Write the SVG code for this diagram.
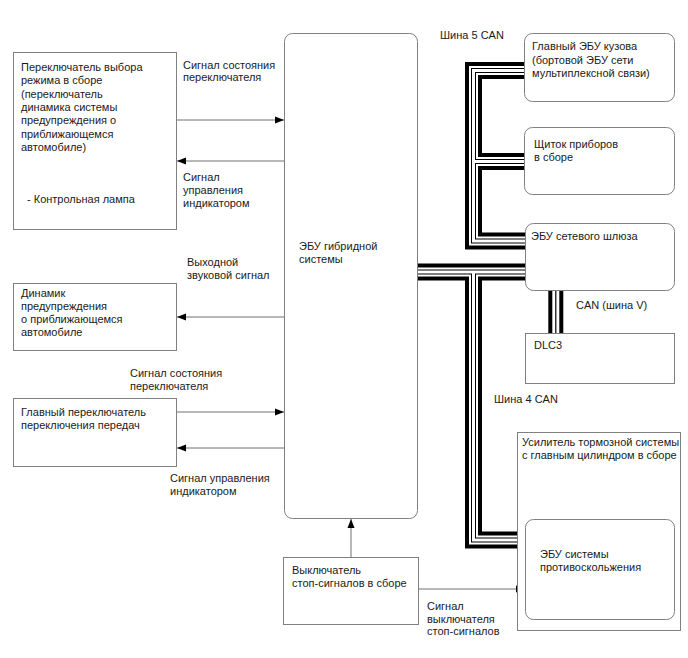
<svg xmlns="http://www.w3.org/2000/svg" width="688" height="658" viewBox="0 0 688 658">
<style>
.box{fill:#fff;stroke:#808080;stroke-width:1}
text{font-family:"Liberation Sans",Arial,sans-serif;font-size:11px;fill:#1a1a1a}
.ln{fill:none;stroke:#707070;stroke-width:1}
.b1{fill:none;stroke:#000;stroke-width:17;stroke-linejoin:miter}
.b2{fill:none;stroke:#fff;stroke-width:9;stroke-linejoin:miter}
.b3{fill:none;stroke:#000;stroke-width:5;stroke-linejoin:miter}
.b4{fill:none;stroke:#fff;stroke-width:3;stroke-linejoin:miter}
</style>
<defs>
<marker id="ah" markerWidth="9" markerHeight="8" refX="9" refY="4" orient="auto" markerUnits="userSpaceOnUse">
<path d="M0,0.5 L9,4 L0,7.5 Z" fill="#000"/>
</marker>
</defs>
<rect width="688" height="658" fill="#fff"/>

<g id="connectors">
<line class="ln" x1="177" y1="120" x2="284" y2="120" marker-end="url(#ah)"/>
<line class="ln" x1="284" y1="161" x2="177" y2="161" marker-end="url(#ah)"/>
<line class="ln" x1="284" y1="317" x2="177" y2="317" marker-end="url(#ah)"/>
<line class="ln" x1="177" y1="412" x2="284" y2="412" marker-end="url(#ah)"/>
<line class="ln" x1="284" y1="448" x2="177" y2="448" marker-end="url(#ah)"/>
<line class="ln" x1="351" y1="557" x2="351" y2="519" marker-end="url(#ah)"/>
<line class="ln" x1="419" y1="589" x2="525" y2="589" marker-end="url(#ah)"/>
<g id="buses">
<path class="b1" d="M524,70.5 H473.5 V241 H525"/>
<path class="b1" d="M473.5,161.5 H524"/>
<path class="b1" d="M418,272 H525"/>
<path class="b1" d="M473.5,272 V540 H525"/>
<path class="b2" d="M524,70.5 H473.5 V241 H525"/>
<path class="b2" d="M473.5,161.5 H524"/>
<path class="b2" d="M418,272 H525"/>
<path class="b2" d="M473.5,272 V540 H525"/>
<path class="b3" d="M524,70.5 H473.5 V241 H525"/>
<path class="b3" d="M473.5,161.5 H524"/>
<path class="b3" d="M418,272 H525"/>
<path class="b3" d="M473.5,272 V540 H525"/>
<path class="b4" d="M524,70.5 H473.5 V241 H525"/>
<path class="b4" d="M473.5,161.5 H524"/>
<path class="b4" d="M418,272 H525"/>
<path class="b4" d="M473.5,272 V540 H525"/>
<line x1="555.8" y1="290" x2="555.8" y2="333" stroke="#000" stroke-width="15"/>
<line x1="555.8" y1="290" x2="555.8" y2="333" stroke="#fff" stroke-width="7"/>
<line x1="555.8" y1="290" x2="555.8" y2="333" stroke="#000" stroke-width="1.2"/>
</g>
</g>

<g id="labels">
<text x="183" y="68.5">Сигнал состояния</text>
<text x="183" y="81">переключателя</text>
<text x="183" y="181">Сигнал</text>
<text x="183" y="194">управления</text>
<text x="183" y="207">индикатором</text>
<text x="187" y="266">Выходной</text>
<text x="187" y="278.5">звуковой сигнал</text>
<text x="130" y="377">Сигнал состояния</text>
<text x="130" y="390">переключателя</text>
<text x="170" y="482">Сигнал управления</text>
<text x="170" y="495">индикатором</text>
<text x="440" y="39">Шина 5 CAN</text>
<text x="576" y="309">CAN (шина V)</text>
<text x="494" y="403">Шина 4 CAN</text>
<text x="427" y="610">Сигнал</text>
<text x="427" y="622.5">выключателя</text>
<text x="427" y="635">стоп-сигналов</text>
</g>

<g id="mode-switch">
<rect class="box" x="13.5" y="52.5" width="163" height="177"/>
<text x="21" y="71">Переключатель выбора</text>
<text x="21" y="84.3">режима в сборе</text>
<text x="21" y="97.6">(переключатель</text>
<text x="21" y="111">динамика системы</text>
<text x="21" y="124.3">предупреждения о</text>
<text x="21" y="137.6">приближающемся</text>
<text x="21" y="151">автомобиле)</text>
<text x="27" y="202.5">- Контрольная лампа</text>
</g>

<g id="speaker">
<rect class="box" x="13.5" y="283.5" width="163" height="67"/>
<text x="21" y="297">Динамик</text>
<text x="21" y="310">предупреждения</text>
<text x="21" y="323">о приближающемся</text>
<text x="21" y="336">автомобиле</text>
</g>

<g id="shift-switch">
<rect class="box" x="13.5" y="398.5" width="163" height="68"/>
<text x="21" y="415.5">Главный переключатель</text>
<text x="21" y="428.5">переключения передач</text>
</g>

<g id="hybrid-ecu">
<rect class="box" x="284.5" y="33.5" width="133" height="485" rx="8"/>
<text x="299" y="249.5">ЭБУ гибридной</text>
<text x="299" y="263">системы</text>
</g>

<g id="stop-switch">
<rect class="box" x="283.5" y="557.5" width="135" height="67"/>
<text x="292" y="574">Выключатель</text>
<text x="292" y="586.5">стоп-сигналов в сборе</text>
</g>

<g id="body-ecu">
<rect class="box" x="524.5" y="33.5" width="150" height="68" rx="8"/>
<text x="532" y="50">Главный ЭБУ кузова</text>
<text x="532" y="63.5">(бортовой ЭБУ сети</text>
<text x="532" y="77">мультиплексной связи)</text>
</g>

<g id="meter">
<rect class="box" x="524.5" y="127.5" width="150" height="67" rx="8"/>
<text x="534" y="147.5">Щиток приборов</text>
<text x="534" y="160.5">в сборе</text>
</g>

<g id="gateway">
<rect class="box" x="525.5" y="223.5" width="149" height="67" rx="8"/>
<text x="531" y="240">ЭБУ сетевого шлюза</text>
</g>

<g id="dlc3">
<rect class="box" x="525.5" y="333.5" width="149" height="50"/>
<text x="534" y="349">DLC3</text>
</g>

<g id="brake-booster">
<rect class="box" x="517.5" y="432.5" width="163" height="198"/>
<text x="522" y="445.5">Усилитель тормозной системы</text>
<text x="522" y="458.5">с главным цилиндром в сборе</text>
</g>

<g id="skid-ecu">
<rect class="box" x="525.5" y="519.5" width="149" height="100" rx="8"/>
<text x="540" y="558">ЭБУ системы</text>
<text x="540" y="570.5">противоскольжения</text>
</g>
</svg>
